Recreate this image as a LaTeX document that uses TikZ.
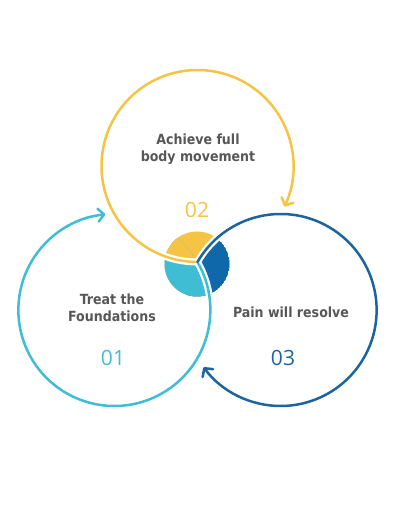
\documentclass[tikz,border=0pt]{standalone}
\usepackage{fontspec}
\setmainfont{DejaVu Sans}
\newfontfamily\labelfont{DejaVu Sans Condensed}
\newfontfamily\numfont{Open Sans}
\usetikzlibrary{calc,arrows.meta}
\definecolor{loopyellow}{HTML}{F5C445}
\definecolor{loopcyan}{HTML}{3FBDD5}
\definecolor{loopblue}{HTML}{1B64A0}
\definecolor{hubblue}{HTML}{0E68AA}
\definecolor{labelgray}{HTML}{575757}
\tikzset{
	loopline/.style={line width=2.5pt, line cap=round, -{Straight Barb[length=6pt,width=13pt,round]}},
	casing/.style={draw=white, line width=7pt},
	steplabel/.style={text=labelgray, font=\labelfont\bfseries\fontsize{14}{17}\selectfont, align=center},
	stepnum/.style={font=\numfont\fontsize{21}{24}\selectfont},
}
\def\R{96pt}

\begin{document}
\begin{tikzpicture}[x=1pt,y=1pt]
			%%%%% START %%%%%
			
			\useasboundingbox (0,0) rectangle (400,523);
			
			\coordinate (P) at (197.5,261);
			\coordinate (hub) at (197,259);
			\coordinate (Yc) at ($(P)+(90:\R)$);
			\coordinate (Cc) at ($(P)+(210:\R)$);
			\coordinate (Bc) at ($(P)+(-30:\R)$);
			
			% centre disc
			\begin{scope}
				\clip (hub) circle (32.5pt);
				\fill[loopyellow] (hub) circle (32.5pt);
				\begin{scope}
					\clip (Bc) circle (\R);
					\fill[hubblue] (hub) circle (32.5pt);
				\end{scope}
				\begin{scope}
					\clip (Cc) circle (\R);
					\fill[loopcyan] (hub) circle (32.5pt);
					\clip (Yc) circle (\R);
					\fill[loopyellow] (hub) circle (32.5pt);
				\end{scope}
			\end{scope}
			
			% the three loops
			\draw[casing] (P) arc (270:-25:\R);
			\draw[loopline, color=loopyellow] (P) arc (270:-25:\R);
			
			\draw[casing] (P) arc (30:-264.6:\R);
			\draw[loopline, color=loopcyan] (P) arc (30:-264.6:\R);
			
			\draw[casing] (P) arc (150:-143.4:\R);
			\draw[loopline, color=loopblue] (P) arc (150:-143.4:\R);
			
			% texts
			\node[steplabel] (move) at (198,374) {Achieve full\\body movement};
			\node[stepnum, text=loopyellow] (num2) at (197,313) {02};
			
			\node[steplabel] (found) at (112,215.5) {Treat the\\Foundations};
			\node[stepnum, text=loopcyan] (num1) at (113,165) {01};
			
			\node[steplabel] (pain) at (291,211) {Pain will resolve};
			\node[stepnum, text=loopblue] (num3) at (283,165) {03};
			
			%%%%% END %%%%%
\end{tikzpicture}
\end{document}
